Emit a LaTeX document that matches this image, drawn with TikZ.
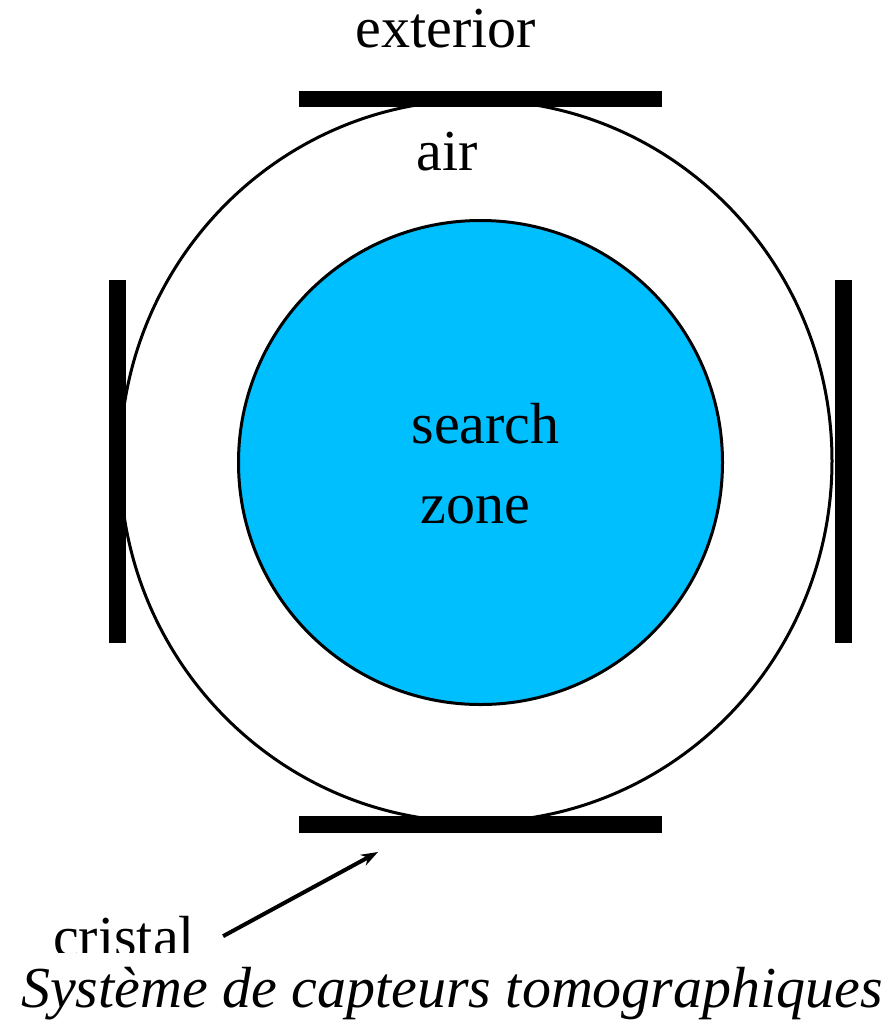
\documentclass[tikz,border=0pt]{standalone}
\usepackage{fontspec}
\setmainfont{Liberation Serif}
\usetikzlibrary{arrows.meta}
\definecolor{ZoneBlue}{HTML}{00BFFF}

\begin{document}
\begin{tikzpicture}[x=1pt, y=-1pt,
    lbl/.style={font=\fontsize{58}{60}\selectfont, inner sep=0pt, anchor=base},
    sensor/.style={fill=black},
    pointer/.style={line width=4pt, -{Stealth[length=17pt, width=12pt]}}]
        \useasboundingbox (0,0) rectangle (893,1031);
        \draw[line width=3pt] (476,461) ellipse [x radius=356, y radius=361];
        \draw[line width=3pt, fill=ZoneBlue] (480.5,462.5) circle [radius=242];
        % the four crystals round the air gap
        \fill[sensor] (299,91) rectangle (662,107);
        \fill[sensor] (299,816) rectangle (662,833);
        \fill[sensor] (109,280) rectangle (126,643);
        \fill[sensor] (835,280) rectangle (852,643);
        \node[lbl] (exterior) at (446,47) {exterior};
        \node[lbl] (air) at (447,170) {air};
        \node[lbl] (search) at (485.5,443) {search};
        \node[lbl] (zone) at (475,523) {zone};
        \begin{scope}
            \clip (0,900) rectangle (400,952);
            \node[lbl, anchor=base west] (cristal) at (53,956) {cristal};
        \end{scope}
        \coordinate (tip) at (378,852);
        \draw[pointer] ([xshift=28pt]cristal.east) -- (tip);
        \node[lbl, font=\fontsize{58}{60}\selectfont\itshape] (caption) at (452,1007) {Système de capteurs tomographiques};
\end{tikzpicture}
\end{document}
